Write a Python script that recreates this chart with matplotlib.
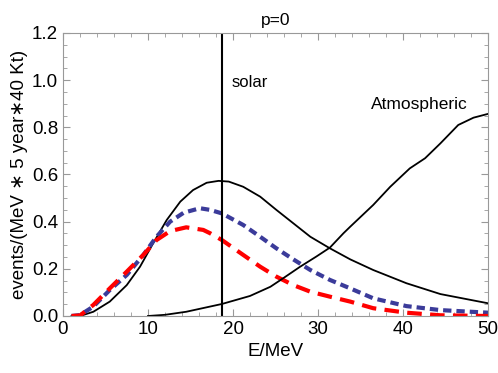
import matplotlib
matplotlib.use("Agg")
from matplotlib import pyplot as plt
from matplotlib.ticker import MultipleLocator, FormatStrFormatter

plt.rcParams['font.family'] = ['Liberation Sans', 'DejaVu Sans']

# solar spectrum (black, full)
E_solar = [1, 2, 3.57, 5.5, 7.5, 9.06, 10.6, 12.2, 13.8, 15.3, 16.9, 18.3, 19.5, 21.2, 23.2, 25.1,
           27.1, 29.1, 31.4, 33.8, 36.5, 40.4, 44.4, 50]
n_solar = [0.0, 0.0, 0.018, 0.061, 0.131, 0.209, 0.308, 0.407, 0.485, 0.534, 0.565, 0.573, 0.57, 0.548,
           0.506, 0.45, 0.393, 0.336, 0.287, 0.24, 0.195, 0.139, 0.093, 0.054]

# blue dashed
E_blue = [1, 2, 3.57, 5.5, 7.5, 9.45, 11.0, 12.6, 14.2, 16.1, 17.3, 18.7, 21.2, 23.2, 25.1, 27.1,
          29.1, 31.4, 33.8, 36.5, 40.4, 44.4, 50]
n_blue = [0.0, 0.004, 0.04, 0.11, 0.174, 0.259, 0.336, 0.4, 0.438, 0.457, 0.45, 0.435, 0.386, 0.336,
          0.287, 0.24, 0.195, 0.153, 0.117, 0.075, 0.042, 0.025, 0.014]

# red dashed
E_red = [1, 2, 3.57, 5.5, 7.5, 9.45, 11.0, 12.6, 14.5, 16.5, 17.3, 18.7, 21.2, 23.2, 25.1, 27.1,
         29.1, 31.4, 33.8, 36.5, 40.4, 44.4, 50]
n_red = [0.0, 0.002, 0.047, 0.117, 0.188, 0.259, 0.322, 0.36, 0.376, 0.365, 0.351, 0.322, 0.259, 0.209,
         0.167, 0.131, 0.103, 0.082, 0.061, 0.033, 0.014, 0.003, 0.0]

# atmospheric background
E_atm = [10, 12, 14.5, 17.3, 18.7, 22, 24.4, 25.9, 27.9, 29.8, 31.4, 33, 33.8, 36.5, 38.5, 40.8,
         42.6, 44.4, 46.5, 48.3, 50]
n_atm = [0.0, 0.005, 0.018, 0.04, 0.051, 0.085, 0.124, 0.16, 0.209, 0.252, 0.29, 0.351, 0.379, 0.471,
         0.548, 0.626, 0.669, 0.732, 0.81, 0.841, 0.857]

E_sun_line = 18.7

fig = plt.figure(figsize=(4.98, 3.73), dpi=100)
ax = fig.add_axes([63/498, 1-316/373, (488-63)/498, (316-33)/373])

ax.plot(E_solar, n_solar, color='black', lw=1.3)
ax.plot(E_blue, n_blue, color='#3b3b9a', lw=3, ls=(0, (2, 1.2)))
ax.plot(E_red, n_red, color='red', lw=3, ls=(0, (3.5, 2)))
ax.plot(E_atm, n_atm, color='black', lw=1.3)
ax.axvline(E_sun_line, color='black', lw=1.5)

ax.text(19.8, 0.99, 'solar', fontsize=12, va='center')
ax.text(41.9, 0.895, 'Atmospheric', fontsize=12.5, va='center', ha='center')

ax.set_xlim(0, 50)
ax.set_ylim(0, 1.2)
ax.xaxis.set_major_locator(MultipleLocator(10))
ax.xaxis.set_minor_locator(MultipleLocator(2))
ax.yaxis.set_major_locator(MultipleLocator(0.2))
ax.yaxis.set_minor_locator(MultipleLocator(0.05))
ax.yaxis.set_major_formatter(FormatStrFormatter('%.1f'))
ax.tick_params(which='both', direction='in', top=True, right=True, color='#999999', labelsize=13.5)
ax.tick_params(which='major', length=5)
ax.tick_params(which='minor', length=3)
for s in ax.spines.values():
    s.set_color('#999999')

ax.set_title('p=0', fontsize=12.5, pad=6)
ax.set_xlabel('E/MeV', fontsize=13.5, labelpad=4)
ax.set_ylabel('events/(MeV ∗ 5 year∗40 Kt)', fontsize=13.5, labelpad=3)

plt.savefig('out.png', dpi=100)
